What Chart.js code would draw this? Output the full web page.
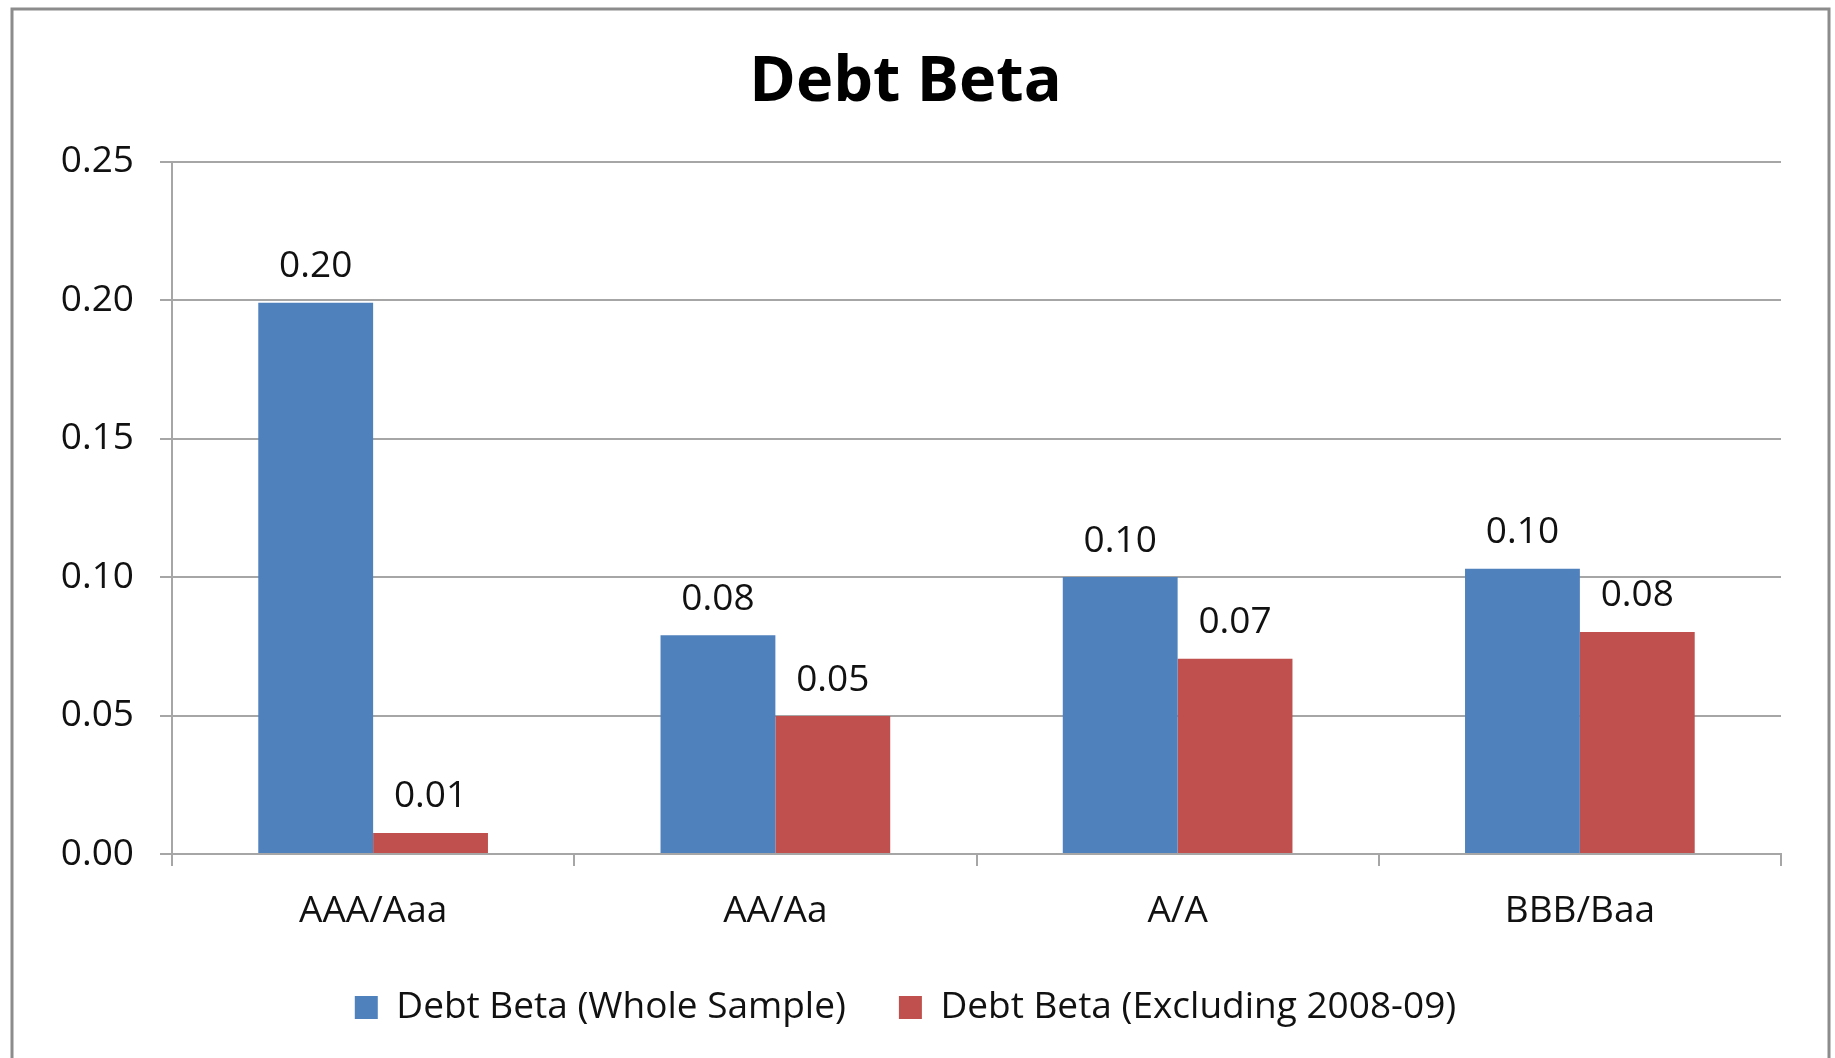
<!DOCTYPE html>
<html>
<head>
<meta charset="utf-8">
<script src="https://cdn.jsdelivr.net/npm/chart.js@4.4.1/dist/chart.umd.min.js"></script>
<style>
  html, body { margin: 0; padding: 0; background: #fff; }
  #wrap { position: absolute; left: 0; top: 0; width: 1835px; height: 1058px; }
</style>
</head>
<body>
<div id="wrap"><canvas id="myChart"></canvas></div>
<script>
const labels = ["AAA/Aaa", "AA/Aa", "A/A", "BBB/Baa"];
const wholeSample = [0.199, 0.079, 0.100, 0.103];
const excluding = [0.0076, 0.0498, 0.0705, 0.0802];
const yTicks = [0, 0.05, 0.1, 0.15, 0.2, 0.25];

const font = "'Open Sans', sans-serif";
const gridGray = "#a6a6a6";

// outer frame like the Excel chart area border
const framePlugin = {
  id: "frame",
  beforeDraw(chart) {
    const ctx = chart.ctx;
    ctx.save();
    ctx.fillStyle = "#fff";
    ctx.fillRect(0, 0, chart.width, chart.height);
    ctx.strokeStyle = "#8c8c8c";
    ctx.lineWidth = 3;
    ctx.strokeRect(12, 9, 1817, 1060);
    ctx.restore();
  },
};

// value labels above each bar
const valueLabels = {
  id: "valueLabels",
  afterDatasetsDraw(chart) {
    const ctx = chart.ctx;
    ctx.save();
    ctx.font = "37px " + font;
    ctx.fillStyle = "#111";
    ctx.textAlign = "center";
    ctx.textBaseline = "middle";
    chart.data.datasets.forEach((ds, i) => {
      chart.getDatasetMeta(i).data.forEach((bar, j) => {
        ctx.fillText(ds.data[j].toFixed(2), bar.x, bar.y - 36);
      });
    });
    ctx.restore();
  },
};

const data = {
  labels: labels,
  datasets: [
    {
      label: "Debt Beta (Whole Sample)",
      data: wholeSample,
      backgroundColor: "#4f81bd",
      borderWidth: 0,
    },
    {
      label: "Debt Beta (Excluding 2008-09)",
      data: excluding,
      backgroundColor: "#c0504d",
      borderWidth: 0,
    },
  ],
};

const config = {
  type: "bar",
  data: data,
  plugins: [framePlugin, valueLabels],
  options: {
    responsive: true,
    maintainAspectRatio: false,
    animation: false,
    datasets: {
      bar: { categoryPercentage: 0.571, barPercentage: 1.0 },
    },
    layout: {
      padding: { left: 30, right: 54, top: 0, bottom: 22 },
    },
    plugins: {
      title: {
        display: true,
        text: "Debt Beta",
        font: { size: 63, weight: "bold", family: font },
        color: "#000",
        padding: { top: 45, bottom: 41 },
      },
      legend: {
        position: "bottom",
        labels: {
          boxWidth: 23,
          boxHeight: 23,
          padding: 53,
          font: { size: 37, family: font },
          color: "#111",
        },
      },
      tooltip: { enabled: false },
    },
    scales: {
      x: {
        grid: {
          drawOnChartArea: false,
          drawTicks: true,
          tickLength: 12,
          color: gridGray,
          lineWidth: 2,
        },
        border: { color: gridGray, width: 2 },
        ticks: {
          font: { size: 37, family: font },
          color: "#111",
          padding: 23,
        },
        afterFit(scale) {
          scale.height = 82;
        },
      },
      y: {
        min: 0,
        max: 0.25,
        afterBuildTicks(scale) {
          scale.ticks = yTicks.map((v) => ({ value: v }));
        },
        grid: {
          color: gridGray,
          lineWidth: 2,
          tickLength: 12,
        },
        border: { color: gridGray, width: 2 },
        ticks: {
          font: { size: 37, family: font },
          color: "#111",
          padding: 26,
          callback: (v) => Number(v).toFixed(2),
        },
        afterFit(scale) {
          scale.width = 142;
        },
      },
    },
  },
};

Chart.defaults.font.family = font;

let myChart = new Chart(document.getElementById("myChart"), config);
</script>
</body>
</html>
